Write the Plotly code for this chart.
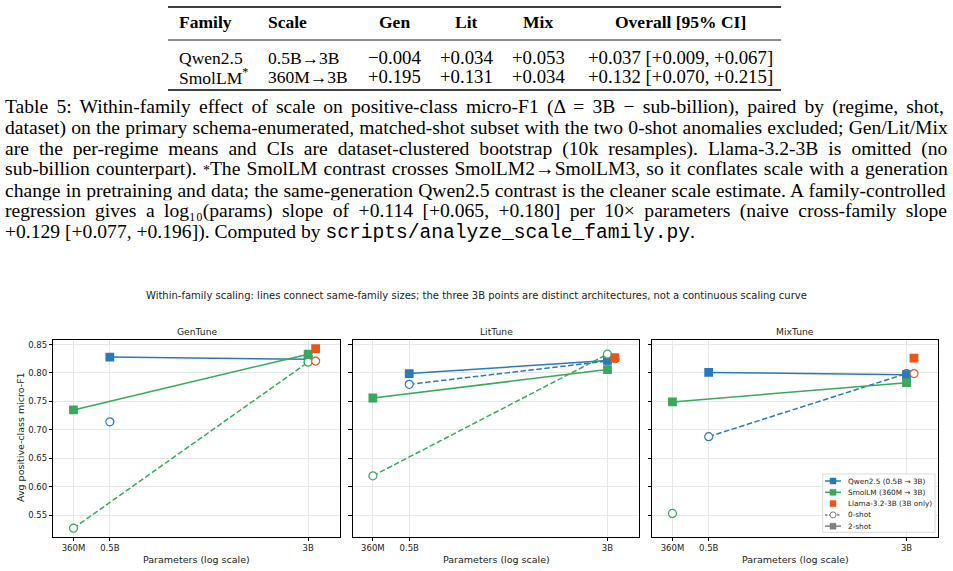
import os, glob, struct
import plotly.graph_objects as go

# ---------------- data ----------------
panels = ["GenTune", "LitTune", "MixTune"]
qwen_params = [5e8, 3e9]
smol_params = [3.6e8, 3e9]
llama_params = [3.21e9]

qwen_2shot = [[0.828, 0.824], [0.799, 0.822], [0.801, 0.797]]
qwen_0shot = [[0.714, None], [0.780, 0.821], [0.688, 0.799]]
smol_2shot = [[0.735, 0.833], [0.756, 0.806], [0.749, 0.783]]
smol_0shot = [[0.527, 0.819], [0.619, 0.833], [0.553, None]]
llama_2shot = [0.843, 0.827, 0.826]
llama_0shot = [0.821, 0.825, 0.799]

x_tick_vals = [3.6e8, 5e8, 3e9]
x_tick_text = ["360M", "0.5B", "3B"]
y_tick_vals = [0.55, 0.60, 0.65, 0.70, 0.75, 0.80, 0.85]
y_tick_text = ["0.55", "0.60", "0.65", "0.70", "0.75", "0.80", "0.85"]

legend_labels = ["Qwen2.5 (0.5B → 3B)", "SmolLM (360M → 3B)", "Llama-3.2-3B (3B only)", "0-shot", "2-shot"]

table_header = ["Family", "Scale", "Gen", "Lit", "Mix", "Overall [95% CI]"]
table_family = ["Qwen2.5", "SmolLM<sup>*</sup>"]
table_scale = ["0.5B→3B", "360M→3B"]
table_gen = ["−0.004", "+0.195"]
table_lit = ["+0.034", "+0.131"]
table_mix = ["+0.053", "+0.034"]
table_overall = ["+0.037 [+0.009, +0.067]", "+0.132 [+0.070, +0.215]"]

caption_lines = [
    [("Table 5: Within-family effect of scale on positive-class micro-F1 (Δ = 3B − sub-billion), paired by (regime, shot,", "r")],
    [("dataset) on the primary schema-enumerated, matched-shot subset with the two 0-shot anomalies excluded; Gen/Lit/Mix", "r")],
    [("are the per-regime means and CIs are dataset-clustered bootstrap (10k resamples). Llama-3.2-3B is omitted (no", "r")],
    [("sub-billion counterpart). ", "r"), ("*", "small"), ("The SmolLM contrast crosses SmolLM2→SmolLM3, so it conflates scale with a generation", "r")],
    [("change in pretraining and data; the same-generation Qwen2.5 contrast is the cleaner scale estimate. A family-controlled", "r")],
    [("regression gives a log₁₀(params) slope of +0.114 [+0.065, +0.180] per 10× parameters (naive cross-family slope", "r")],
    [("+0.129 [+0.077, +0.196]). Computed by ", "r"), ("scripts/analyze_scale_family.py", "m"), (".", "r")],
]

suptitle = "Within-family scaling: lines connect same-family sizes; the three 3B points are distinct architectures, not a continuous scaling curve"

# ---------------- style ----------------
W, H = 953, 571
BLUE = "#2a7ab9"
GREEN = "#3aa85a"
ORANGE = "#e8561a"
GRAY = "#808080"
SANS = "DejaVu Sans"
SERIF = "Liberation Serif, Times New Roman, serif"
MONO = "Liberation Mono, Courier New, monospace"
CAP_SIZE = 19.6
SMALL_SIZE = 14.0
LINE_H = 20.8
TEXT = "#222222"


def px(x):
    return x / W


def py(y):
    return 1 - y / H


# ---------------- font metrics for justified caption ----------------
def load_width_fn(name):
    cands = glob.glob("/usr/share/fonts/**/" + name, recursive=True)
    if not cands:
        return None
    try:
        data = open(cands[0], "rb").read()
        nt = struct.unpack(">H", data[4:6])[0]
        tables = {}
        for i in range(nt):
            tag, cs, off, ln = struct.unpack(">4sIII", data[12 + 16 * i:28 + 16 * i])
            tables[tag.decode("latin1")] = off
        o = tables["head"]
        upem = struct.unpack(">H", data[o + 18:o + 20])[0]
        o = tables["hhea"]
        nhm = struct.unpack(">H", data[o + 34:o + 36])[0]
        o = tables["hmtx"]
        adv = [struct.unpack(">H", data[o + 4 * i:o + 4 * i + 2])[0] for i in range(nhm)]
        o = tables["cmap"]
        n = struct.unpack(">H", data[o + 2:o + 4])[0]
        sub = None
        for i in range(n):
            pid, eid, so = struct.unpack(">HHI", data[o + 4 + 8 * i:o + 12 + 8 * i])
            fmt = struct.unpack(">H", data[o + so:o + so + 2])[0]
            if pid == 3 and eid == 1 and fmt == 4:
                sub = o + so
        segx2 = struct.unpack(">H", data[sub + 6:sub + 8])[0]
        seg = segx2 // 2
        ends = struct.unpack(">%dH" % seg, data[sub + 14:sub + 14 + segx2])
        starts = struct.unpack(">%dH" % seg, data[sub + 16 + segx2:sub + 16 + 2 * segx2])
        deltas = struct.unpack(">%dh" % seg, data[sub + 16 + 2 * segx2:sub + 16 + 3 * segx2])
        rpos = sub + 16 + 3 * segx2
        roffs = struct.unpack(">%dH" % seg, data[rpos:rpos + segx2])

        def gid(c):
            for i in range(seg):
                if ends[i] >= c:
                    if starts[i] > c:
                        return 0
                    if roffs[i] == 0:
                        return (c + deltas[i]) & 0xFFFF
                    p = rpos + 2 * i + roffs[i] + 2 * (c - starts[i])
                    g = struct.unpack(">H", data[p:p + 2])[0]
                    return (g + deltas[i]) & 0xFFFF if g else 0
            return 0

        def width(s, size):
            tot = 0
            for ch in s:
                g = gid(ord(ch))
                tot += adv[g] if g < nhm else adv[-1]
            return tot / upem * size
        return width
    except Exception:
        return None


serif_w = load_width_fn("LiberationSerif-Regular.ttf")
mono_w = load_width_fn("LiberationMono-Regular.ttf")

fig = go.Figure()

# ---------------- plot traces ----------------
xdom = [(53.3, 340.0), (352.7, 639.3), (652.3, 938.3)]
ytop, ybot = 340.0, 536.7

SQ = 8.8
CI = 8
DASH = "5.5px,2.5px"
for i, name in enumerate(panels):
    sfx = "" if i == 0 else str(i + 1)
    xa, ya = "x" + sfx, "y" + sfx
    # Qwen
    fig.add_trace(go.Scatter(x=qwen_params, y=qwen_0shot[i], xaxis=xa, yaxis=ya, mode="lines+markers",
                             line=dict(color=BLUE, width=1.5, dash=DASH),
                             marker=dict(symbol="circle", size=CI, color="white", line=dict(color=BLUE, width=1.2)),
                             showlegend=False))
    fig.add_trace(go.Scatter(x=qwen_params, y=qwen_2shot[i], xaxis=xa, yaxis=ya, mode="lines+markers",
                             line=dict(color=BLUE, width=1.5),
                             marker=dict(symbol="square", size=SQ, color=BLUE),
                             name=legend_labels[0], showlegend=False))
    # SmolLM
    fig.add_trace(go.Scatter(x=smol_params, y=smol_0shot[i], xaxis=xa, yaxis=ya, mode="lines+markers",
                             line=dict(color=GREEN, width=1.5, dash=DASH),
                             marker=dict(symbol="circle", size=CI, color="white", line=dict(color=GREEN, width=1.2)),
                             showlegend=False))
    fig.add_trace(go.Scatter(x=smol_params, y=smol_2shot[i], xaxis=xa, yaxis=ya, mode="lines+markers",
                             line=dict(color=GREEN, width=1.5),
                             marker=dict(symbol="square", size=SQ, color=GREEN),
                             name=legend_labels[1], showlegend=False))
    # Llama
    fig.add_trace(go.Scatter(x=llama_params, y=[llama_0shot[i]], xaxis=xa, yaxis=ya, mode="markers",
                             marker=dict(symbol="circle", size=CI, color="white", line=dict(color=ORANGE, width=1.2)),
                             showlegend=False))
    fig.add_trace(go.Scatter(x=llama_params, y=[llama_2shot[i]], xaxis=xa, yaxis=ya, mode="markers",
                             marker=dict(symbol="square", size=SQ, color=ORANGE),
                             name=legend_labels[2], showlegend=False))

layout = dict(
    width=W, height=H, margin=dict(l=0, r=0, t=0, b=0),
    paper_bgcolor="white", plot_bgcolor="white", showlegend=False,
    font=dict(family=SANS, size=8.5, color=TEXT),
)
for i in range(3):
    sfx = "" if i == 0 else str(i + 1)
    layout["xaxis" + sfx] = dict(
        domain=[px(xdom[i][0]), px(xdom[i][1])], anchor="y" + sfx, type="log",
        range=[8.4771, 9.6021], tickmode="array", tickvals=x_tick_vals, ticktext=x_tick_text,
        showgrid=True, gridcolor="#e6e6e6", gridwidth=0.8, zeroline=False,
        showline=True, mirror=True, linecolor="black", linewidth=1,
        ticks="outside", ticklen=3.5, tickwidth=0.8, tickcolor="black",
        tickfont=dict(family=SANS, size=8.5, color=TEXT))
    layout["yaxis" + sfx] = dict(
        domain=[py(ybot), py(ytop)], anchor="x" + sfx,
        range=[0.512, 0.858], tickmode="array", tickvals=y_tick_vals, ticktext=y_tick_text,
        showticklabels=(i == 0),
        showgrid=True, gridcolor="#e6e6e6", gridwidth=0.8, zeroline=False,
        showline=True, mirror=True, linecolor="black", linewidth=1,
        ticks="outside", ticklen=3.5, tickwidth=0.8, tickcolor="black",
        tickfont=dict(family=SANS, size=8.5, color=TEXT))
fig.update_layout(**layout)

ann = []
shapes = []
# suptitle, subplot titles, axis titles
ann.append(dict(text=suptitle, x=px(476.5), y=py(296), xref="paper", yref="paper", showarrow=False,
                xanchor="center", yanchor="middle", font=dict(family=SANS, size=10, color=TEXT)))
for i, name in enumerate(panels):
    cx = (xdom[i][0] + xdom[i][1]) / 2
    ann.append(dict(text=name, x=px(cx), y=py(331), xref="paper", yref="paper", showarrow=False,
                    xanchor="center", yanchor="middle", font=dict(family=SANS, size=9.2, color=TEXT)))
    ann.append(dict(text="Parameters (log scale)", x=px(cx), y=py(559), xref="paper", yref="paper",
                    showarrow=False, xanchor="center", yanchor="middle",
                    font=dict(family=SANS, size=9.5, color=TEXT)))
ann.append(dict(text="Avg positive-class micro-F1", x=px(20), y=py(437), xref="paper", yref="paper",
                showarrow=False, textangle=-90, xanchor="center", yanchor="middle",
                font=dict(family=SANS, size=9.5, color=TEXT)))

# ---------------- legend (drawn in MixTune panel) ----------------
LX0, LX1, LY0, LY1 = 822.7, 935.0, 474.0, 532.3
shapes.append(dict(type="rect", xref="paper", yref="paper", x0=px(LX0), x1=px(LX1), y0=py(LY1), y1=py(LY0),
                   line=dict(color="#d0d0d0", width=0.8), fillcolor="rgba(255,255,255,0.85)", layer="above"))
leg_colors = [BLUE, GREEN, ORANGE, GRAY, GRAY]
leg_line = ["solid", "solid", None, "2.5px,1.5px", "solid"]
leg_marker = ["square", "square", "square", "circle", "square"]
for k, lab in enumerate(legend_labels):
    yc = 481.0 + 11.3 * k
    c = leg_colors[k]
    if leg_line[k] is not None:
        shapes.append(dict(type="line", xref="paper", yref="paper", x0=px(825), x1=px(841), y0=py(yc), y1=py(yc),
                           line=dict(color=c, width=1.5, dash=leg_line[k]), layer="above"))
    if leg_marker[k] == "square":
        shapes.append(dict(type="rect", xref="paper", yref="paper", x0=px(830), x1=px(836),
                           y0=py(yc + 3), y1=py(yc - 3), line=dict(color=c, width=0.5), fillcolor=c, layer="above"))
    else:
        shapes.append(dict(type="circle", xref="paper", yref="paper", x0=px(830), x1=px(836),
                           y0=py(yc + 3), y1=py(yc - 3), line=dict(color=c, width=1), fillcolor="white", layer="above"))
    ann.append(dict(text=lab, x=px(846.5), y=py(yc), xref="paper", yref="paper", showarrow=False,
                    xanchor="left", yanchor="middle", borderpad=0,
                    font=dict(family=SANS, size=7.3, color=TEXT)))

# ---------------- table ----------------
TS = 17.5
TSN = 18.8
col_x = [178, 267, 394, 466, 538, 680]
col_anchor = ["left", "left", "center", "center", "center", "center"]
for j, h in enumerate(table_header):
    ann.append(dict(text="<b>" + h + "</b>", x=px(col_x[j]), y=py(22), xref="paper", yref="paper",
                    showarrow=False, xanchor=col_anchor[j], yanchor="middle", borderpad=0,
                    font=dict(family=SERIF, size=TS, color="black")))
rows_y = [57, 76.5]
cols = [table_family, table_scale, table_gen, table_lit, table_mix, table_overall]
for r in range(2):
    for j, col in enumerate(cols):
        ann.append(dict(text=col[r], x=px(col_x[j]), y=py(rows_y[r]), xref="paper", yref="paper",
                        showarrow=False, xanchor=col_anchor[j], yanchor="middle", borderpad=0,
                        height=19, valign="middle",
                        font=dict(family=SERIF, size=(TS if j < 2 else TSN), color="black")))
for yy, lw in [(7, 1.6), (40, 0.9), (90, 1.6)]:
    shapes.append(dict(type="line", xref="paper", yref="paper", x0=px(168), x1=px(781),
                       y0=py(yy), y1=py(yy), line=dict(color="black", width=lw)))

# ---------------- caption (justified) ----------------
LEFT, RIGHT = 5, 948
for k, segs in enumerate(caption_lines):
    last = k == len(caption_lines) - 1
    ws = 0.0
    if not last and serif_w is not None:
        nat = 0.0
        nsp = 0
        for t, kind in segs:
            if kind == "r":
                nat += serif_w(t, CAP_SIZE)
                nsp += t.count(" ")
            elif kind == "small":
                nat += serif_w(t, SMALL_SIZE)
            else:
                nat += (mono_w(t, CAP_SIZE) if mono_w else 0.6 * CAP_SIZE * len(t))
        if nsp:
            ws = (RIGHT - LEFT - nat) / nsp
    html = ""
    for t, kind in segs:
        if kind == "r":
            html += '<span style="word-spacing:%.2fpx">%s</span>' % (ws, t)
        elif kind == "small":
            html += '<span style="font-size:%.1fpx">%s</span>' % (SMALL_SIZE, t)
        else:
            html += '<span style="font-family:%s">%s</span>' % (MONO, t)
    ann.append(dict(text=html, x=px(LEFT), y=py(107 + LINE_H * k), xref="paper", yref="paper",
                    showarrow=False, xanchor="left", yanchor="middle", borderpad=0, borderwidth=0,
                    height=LINE_H - 0.5, valign="middle",
                    font=dict(family=SERIF, size=CAP_SIZE, color="black")))

fig.update_layout(annotations=ann, shapes=shapes)
fig.write_html("out.html")
